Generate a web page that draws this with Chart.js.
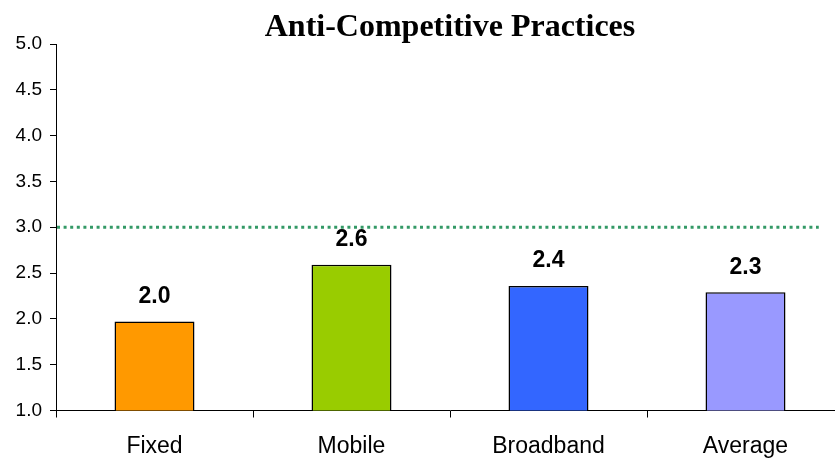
<!DOCTYPE html>
<html>
<head>
<meta charset="utf-8">
<script src="https://cdn.jsdelivr.net/npm/chart.js@4/dist/chart.umd.min.js"></script>
<style>
  html, body { margin: 0; padding: 0; background: #fff; overflow: hidden; }
  #wrap { width: 896px; height: 458px; }
  canvas { display: block; }
</style>
</head>
<body>
<div id="wrap"><canvas id="c" width="896" height="458"></canvas></div>
<script>
const categories = ["Fixed", "Mobile", "Broadband", "Average"];
const scores = [1.97, 2.59, 2.36, 2.29];
const barColors = ["#FF9900", "#99CC00", "#3366FF", "#9999FF"];
const yTicks = [1.0, 1.5, 2.0, 2.5, 3.0, 3.5, 4.0, 4.5, 5.0];
const referenceLine = 3.0;
const chartTitle = "Anti-Competitive Practices";

const sans = "'Liberation Sans', Arial, sans-serif";

const refLinePlugin = {
  id: 'refLine',
  beforeDatasetsDraw(chart) {
    const {ctx, chartArea, scales} = chart;
    const y = scales.y.getPixelForValue(referenceLine);
    ctx.save();
    ctx.strokeStyle = '#339966';
    ctx.lineWidth = 3;
    ctx.setLineDash([3, 3.6]);
    ctx.beginPath();
    ctx.moveTo(chartArea.left + 1, y);
    ctx.lineTo(chartArea.left + (chartArea.right - chartArea.left) * 0.968, y);
    ctx.stroke();
    ctx.restore();
  }
};

const valueLabelPlugin = {
  id: 'valueLabels',
  afterDatasetsDraw(chart) {
    const {ctx} = chart;
    const meta = chart.getDatasetMeta(0);
    ctx.save();
    ctx.fillStyle = '#000';
    ctx.font = "bold 23px " + sans;
    ctx.textAlign = 'center';
    ctx.textBaseline = 'middle';
    meta.data.forEach((bar, i) => {
      ctx.fillText(scores[i].toFixed(1), bar.x, bar.y - 25);
    });
    ctx.restore();
  }
};

new Chart(document.getElementById('c'), {
  type: 'bar',
  data: {
    labels: categories,
    datasets: [{
      data: scores,
      backgroundColor: barColors,
      borderColor: '#000',
      borderWidth: 1.5,
      borderSkipped: 'bottom',
      barPercentage: 0.406,
      categoryPercentage: 1.0
    }]
  },
  options: {
    responsive: false,
    animation: false,
    layout: { padding: { left: 0, right: 52, top: 0, bottom: 0 } },
    plugins: {
      legend: { display: false },
      tooltip: { enabled: false },
      title: {
        display: true,
        fullSize: false,
        text: chartTitle,
        color: '#000',
        font: { family: "'Liberation Serif', 'Times New Roman', serif", size: 32, weight: 'bold', lineHeight: 1.0 },
        padding: { top: 12, bottom: 0 }
      }
    },
    scales: {
      x: {
        offset: true,
        afterFit(scale) { scale.height = 47.5; },
        grid: { display: true, drawOnChartArea: false, offset: true, tickLength: 7, color: '#000', lineWidth: 1 },
        border: { display: true, color: '#000', width: 1 },
        ticks: { color: '#000', font: { family: sans, size: 23 }, padding: 15, maxRotation: 0 }
      },
      y: {
        min: 1, max: 5,
        afterFit(scale) { scale.width = 56; },
        afterBuildTicks(scale) { scale.ticks = yTicks.map(v => ({ value: v })); },
        grid: { display: true, drawOnChartArea: false, tickLength: 6, color: '#000', lineWidth: 1 },
        border: { display: true, color: '#000', width: 1 },
        ticks: { color: '#000', font: { family: sans, size: 19 }, padding: 8, callback: v => Number(v).toFixed(1) }
      }
    }
  },
  plugins: [refLinePlugin, valueLabelPlugin]
});
</script>
</body>
</html>
